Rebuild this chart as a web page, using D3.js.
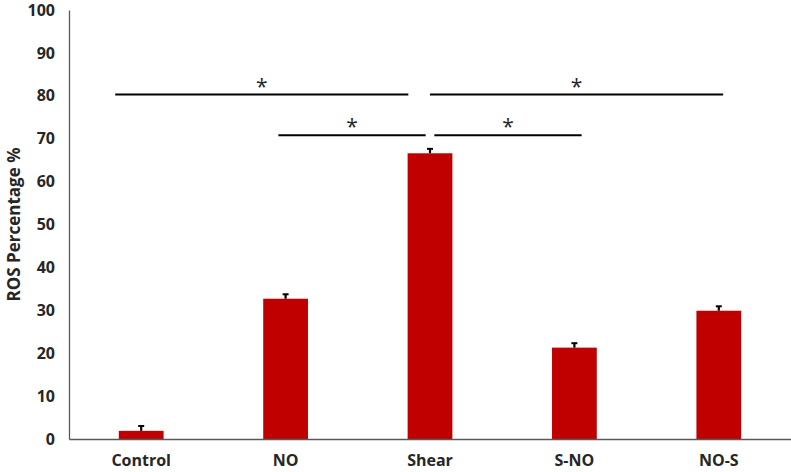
<!DOCTYPE html>
<html lang="en">
<head>
<meta charset="utf-8">
<title>ROS Percentage</title>
<script src="https://d3js.org/d3.v7.min.js"></script>
<style>
  body { margin: 0; background: #fff; }
  svg { display: block; }
  text { font-family: "Open Sans", sans-serif; font-weight: bold; fill: #262626; }
</style>
</head>
<body>
<div id="chart"></div>
<script>
// data
var categories = ["Control", "NO", "Shear", "S-NO", "NO-S"];
var values = [1.9, 32.7, 66.6, 21.3, 29.9];
var errors = [0.9, 0.8, 0.8, 0.8, 0.8];
var yTicks = [0, 10, 20, 30, 40, 50, 60, 70, 80, 90, 100];
// significance brackets: start / end as category index (fractional), level in %
var sigFrom = [-0.18, 2.0, 0.95, 2.03];
var sigTo = [1.85, 4.03, 1.97, 3.05];
var sigLevel = [80.3, 80.3, 70.8, 70.8];

var W = 791, H = 472;
var margin = {top: 10, right: 0, bottom: 33, left: 69};
var width = W - margin.left - margin.right,
    height = H - margin.top - margin.bottom;

var svg = d3.select("#chart").append("svg")
    .attr("width", W)
    .attr("height", H);

var g = svg.append("g")
    .attr("transform", "translate(" + margin.left + "," + margin.top + ")");

var x = d3.scaleBand()
    .domain(categories)
    .range([0, width])
    .paddingInner(0.69)
    .paddingOuter(0.345);

var step = x.step();
var xIdx = d3.scaleLinear()
    .domain([0, 1])
    .range([x(categories[0]) + x.bandwidth() / 2, x(categories[0]) + x.bandwidth() / 2 + step]);

var y = d3.scaleLinear()
    .domain([0, 100])
    .range([height, 0]);

// y axis
var yAxis = g.append("g")
    .call(d3.axisLeft(y).tickValues(yTicks).tickSize(0).tickPadding(14));
yAxis.select(".domain").attr("stroke", "#595959").attr("stroke-width", 1.3);
yAxis.selectAll("text")
    .style("font-size", "16px")
    .style("font-family", "'Open Sans', sans-serif")
    .style("font-weight", "bold")
    .attr("fill", "#262626");

// bars
g.selectAll(".bar")
    .data(values)
  .enter().append("rect")
    .attr("class", "bar")
    .attr("x", function(d, i) { return x(categories[i]); })
    .attr("width", x.bandwidth())
    .attr("y", function(d) { return y(d); })
    .attr("height", function(d) { return height - y(d); })
    .attr("fill", "#C00000");

// error bars
var eb = g.selectAll(".err")
    .data(values)
  .enter().append("g")
    .attr("class", "err")
    .attr("transform", function(d, i) { return "translate(" + (x(categories[i]) + x.bandwidth() / 2) + ",0)"; });
eb.append("line")
    .attr("x1", 0).attr("x2", 0)
    .attr("y1", function(d) { return y(d); })
    .attr("y2", function(d, i) { return y(d + errors[i]) - 1; })
    .attr("stroke", "#000").attr("stroke-width", 2.2);
eb.append("line")
    .attr("x1", -3).attr("x2", 3)
    .attr("y1", function(d, i) { return y(d + errors[i]) - 1; })
    .attr("y2", function(d, i) { return y(d + errors[i]) - 1; })
    .attr("stroke", "#000").attr("stroke-width", 2);

// x axis
var xAxis = g.append("g")
    .attr("transform", "translate(0," + height + ")")
    .call(d3.axisBottom(x).tickSize(0).tickPadding(16));
xAxis.select(".domain").attr("stroke", "#595959").attr("stroke-width", 1.3);
xAxis.selectAll("text")
    .style("font-size", "16px")
    .style("font-family", "'Open Sans', sans-serif")
    .style("font-weight", "bold")
    .attr("fill", "#262626");

// significance lines
var sig = g.selectAll(".sig")
    .data(sigLevel)
  .enter().append("g")
    .attr("class", "sig");
sig.append("line")
    .attr("x1", function(d, i) { return xIdx(sigFrom[i]); })
    .attr("x2", function(d, i) { return xIdx(sigTo[i]); })
    .attr("y1", function(d) { return y(d); })
    .attr("y2", function(d) { return y(d); })
    .attr("stroke", "#000")
    .attr("stroke-width", 2.2);
sig.append("text")
    .attr("x", function(d, i) { return xIdx((sigFrom[i] + sigTo[i]) / 2); })
    .attr("y", function(d) { return y(d) - 1; })
    .attr("text-anchor", "middle")
    .style("font-size", "21px")
    .style("font-weight", "normal")
    .attr("fill", "#000")
    .text("*");

// y label
svg.append("text")
    .attr("transform", "translate(20," + (margin.top + height / 2) + ") rotate(-90)")
    .attr("text-anchor", "middle")
    .style("font-size", "17px")
    .text("ROS Percentage %");
</script>
</body>
</html>
